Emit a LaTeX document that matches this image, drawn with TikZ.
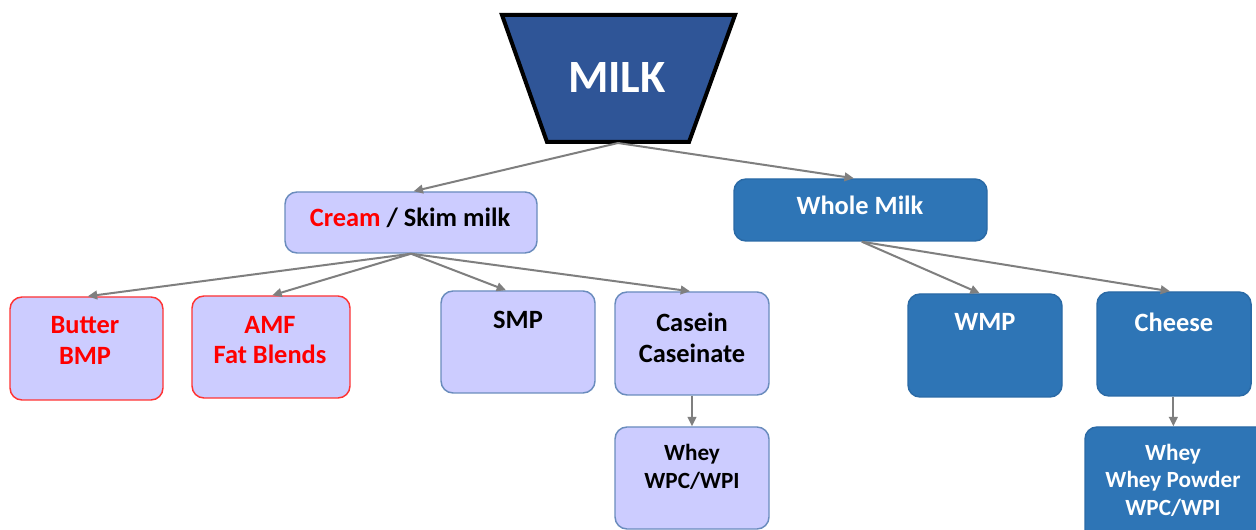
\documentclass[tikz,border=0pt]{standalone}
\usepackage{fontspec}
\setmainfont{Carlito}
\usetikzlibrary{arrows.meta}
\definecolor{milkblue}{HTML}{2F5597}
\definecolor{lav}{HTML}{CCCCFF}
\definecolor{lavborder}{HTML}{6A8CBD}
\definecolor{midblue}{HTML}{2E75B6}
\definecolor{midborder}{HTML}{2A6AA6}
\definecolor{arrowgray}{HTML}{7F7F7F}
\definecolor{myred}{HTML}{FF0000}
\begin{document}
\begin{tikzpicture}[x=0.75pt,y=-0.75pt,
  lavbox/.style={draw=lavborder,fill=lav,line width=1.1pt,rounded corners=9pt,inner sep=0pt},
  redbox/.style={draw=myred!80,fill=lav,line width=1.1pt,rounded corners=9pt,inner sep=0pt},
  bluebox/.style={draw=midborder,fill=midblue,line width=1.1pt,rounded corners=9pt,inner sep=0pt},
  txt/.style={font=\bfseries\fontsize{19.8}{23}\selectfont,align=center,inner sep=0pt},
  smalltxt/.style={font=\bfseries\fontsize{17.4}{20.6}\selectfont,align=center,inner sep=0pt},
  arr/.style={draw=arrowgray,line width=1.5pt,-{Triangle[length=7pt,width=6.5pt]}}
]
\useasboundingbox (0,0) rectangle (1256,530);
\clip (0,0) rectangle (1256,530);
\fill[white] (0,0) rectangle (1256,530);

% MILK trapezoid
\draw[fill=milkblue,line width=3pt,line join=miter] (502,15) -- (735,15) -- (689,142) -- (547,142) -- cycle;
\node[text=white,font=\bfseries\fontsize{34.7}{40}\selectfont,inner sep=0pt] (milk) at (617,78) {MILK};
\coordinate (milkb) at (618,143);

% level 1
\node[lavbox,minimum width=252*0.75pt,minimum height=61*0.75pt] (cream) at (411,222.5) {};
\node[txt] (creamt) at (410,218) {\textcolor{myred}{Cream} / Skim milk};
\node[bluebox,minimum width=253*0.75pt,minimum height=62*0.75pt] (whole) at (860.5,210) {};
\node[txt,text=white] (wholet) at (860,205) {Whole Milk};

% level 2
\node[redbox,minimum width=153*0.75pt,minimum height=103*0.75pt] (butter) at (86.5,348.5) {};
\node[txt,text=myred] (buttert) at (85,340.5) {Butter\\BMP};
\node[redbox,minimum width=158*0.75pt,minimum height=102*0.75pt] (amf) at (271,347) {};
\node[txt,text=myred] (amft) at (270,340) {AMF\\Fat Blends};
\node[lavbox,minimum width=154*0.75pt,minimum height=102*0.75pt] (smp) at (518,342) {};
\node[txt] (smpt) at (518,320) {SMP};
\node[lavbox,minimum width=154*0.75pt,minimum height=103*0.75pt] (casein) at (692,343.5) {};
\node[txt] (caseint) at (692,338) {Casein\\Caseinate};
\node[lavbox,minimum width=154*0.75pt,minimum height=102*0.75pt] (wheyl) at (692,478) {};
\node[smalltxt] (wheylt) at (692,467) {Whey\\WPC/WPI};

\node[bluebox,minimum width=154*0.75pt,minimum height=103*0.75pt] (wmp) at (985,345.5) {};
\node[txt,text=white] (wmpt) at (985,322) {WMP};
\node[bluebox,minimum width=154*0.75pt,minimum height=104*0.75pt] (cheese) at (1174,344) {};
\node[txt,text=white] (cheeset) at (1174,322) {Cheese};
\node[bluebox,minimum width=190*0.75pt,minimum height=115*0.75pt] (wheyr) at (1180,484.5) {};
\node[smalltxt,text=white] (wheyrt) at (1173,480) {Whey\\Whey Powder\\WPC/WPI};

% connectors
\draw[arr] (milkb) -- ([xshift=2pt]cream.north);
\draw[arr] (milkb) -- ([xshift=-5pt]whole.north);
\draw[arr] (cream.south) -- ([xshift=1pt]butter.north);
\draw[arr] (cream.south) -- ([xshift=1pt]amf.north);
\draw[arr] (cream.south) -- ([xshift=-9pt]smp.north);
\draw[arr] (cream.south) -- ([xshift=-1.5pt]casein.north);
\draw[arr] (casein.south) -- (wheyl.north);
\draw[arr] ([xshift=1pt]whole.south) -- ([xshift=-4pt]wmp.north);
\draw[arr] ([xshift=1pt]whole.south) -- ([xshift=-3pt]cheese.north);
\draw[arr] ([xshift=-5pt]wheyr.north |- cheese.south) -- ([xshift=-5pt]wheyr.north);
\end{tikzpicture}
\end{document}
